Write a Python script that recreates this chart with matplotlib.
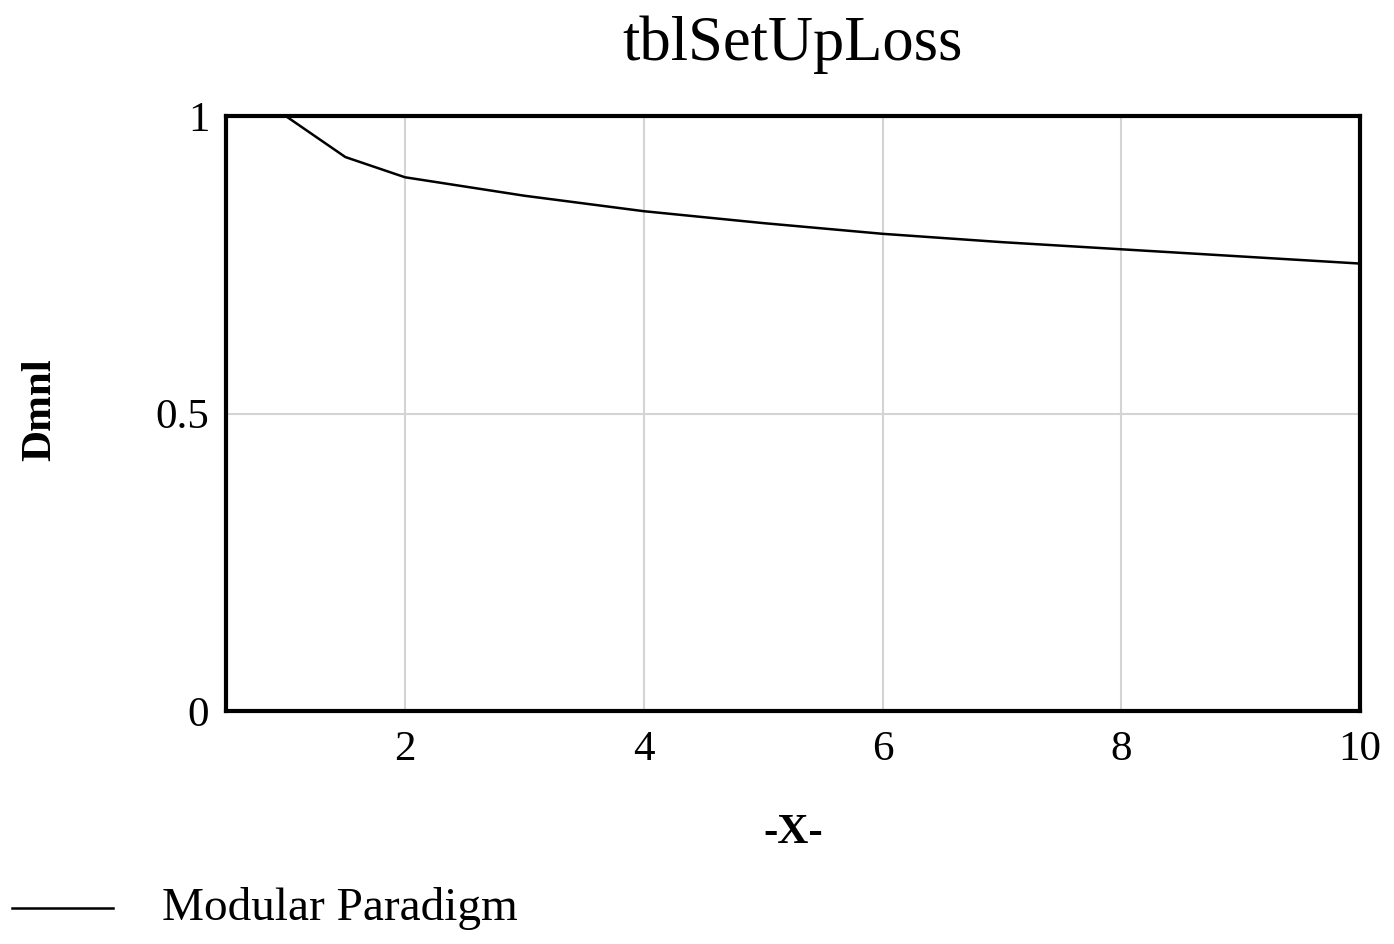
import matplotlib
matplotlib.use("Agg")
import matplotlib.pyplot as plt
from matplotlib.lines import Line2D

# lookup table
x_vals = [1.0, 1.5, 2.0, 3.0, 4.0, 5.0, 6.0, 7.0, 8.0, 9.0, 10.0]
y_vals = [1.0, 0.931, 0.897, 0.866, 0.840, 0.820, 0.802, 0.788, 0.776, 0.764, 0.752]
x_ticks = [2, 4, 6, 8, 10]
y_ticks = [0, 0.5, 1]
y_ticklabels = ["0", "0.5", "1"]

SERIF = ["Liberation Serif", "DejaVu Serif"]
plt.rcParams["font.family"] = SERIF

fig = plt.figure(figsize=(13.94, 9.44), dpi=100)
ax = fig.add_axes([226 / 1394, 1 - 711 / 944, (1360 - 226) / 1394, (711 - 116) / 944])

ax.plot(x_vals, y_vals, color="black", lw=1.8, label="Modular Paradigm")
ax.set_xlim(0.5, 10)
ax.set_ylim(0, 1)
ax.set_xticks(x_ticks)
ax.set_yticks(y_ticks)
ax.set_yticklabels(y_ticklabels)
ax.tick_params(length=0, labelsize=31)
ax.tick_params(axis="x", pad=14)
ax.tick_params(axis="y", pad=12)
ax.grid(True, color="#d4d4d4", lw=1.5)
for s in ax.spines.values():
    s.set_linewidth(3)
    s.set_color("black")

ax.set_title("tblSetUpLoss", fontsize=45, pad=40)
ax.set_xlabel("-X-", fontsize=31, va="center", fontweight="bold")
ax.xaxis.set_label_coords(0.5, -0.205)
ax.set_ylabel("Dmnl", fontsize=31, va="center", fontweight="bold")
ax.yaxis.set_label_coords(-0.164, 0.506)

# legend below the plot, at the figure's left edge
fig.lines.append(Line2D([12 / 1394, 113 / 1394], [1 - 908 / 944] * 2,
                        transform=fig.transFigure, color="black", lw=1.8))
fig.text(162 / 1394, 1 - 908 / 944, "Modular Paradigm", fontsize=34,
         va="center", ha="left")

fig.savefig("out.png", dpi=100)
